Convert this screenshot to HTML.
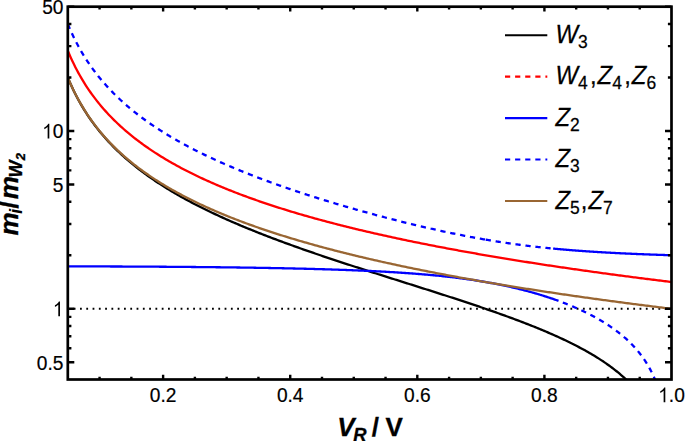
<!DOCTYPE html>
<html><head><meta charset="utf-8"><style>
html,body{margin:0;padding:0;background:#fff;}
svg{display:block;font-family:"Liberation Sans",sans-serif;}
</style></head><body>
<svg width="685" height="441" viewBox="0 0 685 441">
<rect width="685" height="441" fill="#fff"/>
<defs><clipPath id="c"><rect x="67.80" y="6.70" width="603.70" height="372.80"/></clipPath></defs>
<g clip-path="url(#c)">
<path d="M67.80 308.75 H671.50" stroke="#000" stroke-width="1.9" stroke-dasharray="1.8 4.487" stroke-dashoffset="0.37" fill="none"/>
<path d="M67.80 77.54 L69.31 81.13 L70.82 84.56 L72.32 87.85 L73.83 91.00 L75.34 94.03 L76.85 96.95 L78.35 99.76 L79.86 102.48 L81.37 105.10 L82.88 107.64 L84.38 110.10 L85.89 112.48 L87.40 114.80 L88.91 117.05 L90.41 119.23 L91.92 121.36 L93.43 123.43 L94.94 125.45 L96.45 127.42 L97.95 129.34 L99.46 131.22 L100.97 133.05 L102.48 134.84 L103.98 136.59 L105.49 138.31 L107.00 139.98 L108.51 141.63 L110.01 143.24 L111.52 144.82 L113.03 146.37 L114.54 147.89 L116.05 149.38 L117.55 150.84 L119.06 152.28 L120.57 153.70 L122.08 155.09 L123.58 156.45 L125.09 157.80 L126.60 159.12 L128.11 160.42 L129.61 161.70 L131.12 162.96 L132.63 164.21 L134.14 165.43 L135.64 166.64 L137.15 167.83 L138.66 169.00 L140.17 170.16 L141.68 171.30 L143.18 172.42 L144.69 173.53 L146.20 174.63 L147.71 175.71 L149.21 176.78 L150.72 177.84 L152.23 178.88 L153.74 179.91 L155.24 180.93 L156.75 181.93 L158.26 182.93 L159.77 183.91 L161.28 184.89 L162.78 185.85 L164.29 186.80 L165.80 187.74 L167.31 188.67 L168.81 189.59 L170.32 190.50 L171.83 191.41 L173.34 192.30 L174.84 193.19 L176.35 194.06 L177.86 194.93 L179.37 195.79 L180.87 196.64 L182.38 197.48 L183.89 198.32 L185.40 199.15 L186.91 199.97 L188.41 200.78 L189.92 201.59 L191.43 202.39 L192.94 203.19 L194.44 203.97 L195.95 204.75 L197.46 205.53 L198.97 206.29 L200.47 207.06 L201.98 207.81 L203.49 208.56 L205.00 209.31 L206.50 210.04 L208.01 210.78 L209.52 211.50 L211.03 212.23 L212.54 212.94 L214.04 213.66 L215.55 214.36 L217.06 215.07 L218.57 215.76 L220.07 216.46 L221.58 217.14 L223.09 217.83 L224.60 218.51 L226.10 219.18 L227.61 219.85 L229.12 220.52 L230.63 221.18 L232.14 221.84 L233.64 222.49 L235.15 223.14 L236.66 223.79 L238.17 224.43 L239.67 225.07 L241.18 225.71 L242.69 226.34 L244.20 226.97 L245.70 227.59 L247.21 228.21 L248.72 228.83 L250.23 229.44 L251.73 230.06 L253.24 230.66 L254.75 231.27 L256.26 231.87 L257.77 232.47 L259.27 233.07 L260.78 233.66 L262.29 234.25 L263.80 234.84 L265.30 235.42 L266.81 236.01 L268.32 236.59 L269.83 237.16 L271.33 237.74 L272.84 238.31 L274.35 238.88 L275.86 239.45 L277.36 240.01 L278.87 240.57 L280.38 241.13 L281.89 241.69 L283.40 242.25 L284.90 242.80 L286.41 243.35 L287.92 243.90 L289.43 244.45 L290.93 244.99 L292.44 245.54 L293.95 246.08 L295.46 246.62 L296.96 247.16 L298.47 247.69 L299.98 248.23 L301.49 248.76 L303.00 249.29 L304.50 249.82 L306.01 250.34 L307.52 250.87 L309.03 251.39 L310.53 251.91 L312.04 252.44 L313.55 252.95 L315.06 253.47 L316.56 253.99 L318.07 254.50 L319.58 255.02 L321.09 255.53 L322.59 256.04 L324.10 256.55 L325.61 257.06 L327.12 257.56 L328.63 258.07 L330.13 258.57 L331.64 259.08 L333.15 259.58 L334.66 260.08 L336.16 260.58 L337.67 261.08 L339.18 261.57 L340.69 262.07 L342.19 262.57 L343.70 263.06 L345.21 263.55 L346.72 264.05 L348.23 264.54 L349.73 265.03 L351.24 265.52 L352.75 266.01 L354.26 266.50 L355.76 266.99 L357.27 267.47 L358.78 267.96 L360.29 268.45 L361.79 268.93 L363.30 269.42 L364.81 269.90 L366.32 270.38 L367.82 270.87 L369.33 271.35 L370.84 271.83 L372.35 272.31 L373.86 272.79 L375.36 273.27 L376.87 273.75 L378.38 274.23 L379.89 274.71 L381.39 275.19 L382.90 275.66 L384.41 276.14 L385.92 276.62 L387.42 277.10 L388.93 277.57 L390.44 278.05 L391.95 278.53 L393.45 279.00 L394.96 279.48 L396.47 279.96 L397.98 280.43 L399.49 280.91 L400.99 281.39 L402.50 281.86 L404.01 282.34 L405.52 282.81 L407.02 283.29 L408.53 283.77 L410.04 284.24 L411.55 284.72 L413.05 285.19 L414.56 285.67 L416.07 286.15 L417.58 286.62 L419.09 287.10 L420.59 287.58 L422.10 288.06 L423.61 288.53 L425.12 289.01 L426.62 289.49 L428.13 289.97 L429.64 290.45 L431.15 290.93 L432.65 291.41 L434.16 291.89 L435.67 292.37 L437.18 292.86 L438.68 293.34 L440.19 293.82 L441.70 294.31 L443.21 294.79 L444.72 295.28 L446.22 295.76 L447.73 296.25 L449.24 296.74 L450.75 297.23 L452.25 297.71 L453.76 298.21 L455.27 298.70 L456.78 299.19 L458.28 299.68 L459.79 300.18 L461.30 300.67 L462.81 301.17 L464.31 301.66 L465.82 302.16 L467.33 302.66 L468.84 303.16 L470.35 303.67 L471.85 304.17 L473.36 304.68 L474.87 305.18 L476.38 305.69 L477.88 306.20 L479.39 306.71 L480.90 307.22 L482.41 307.74 L483.91 308.25 L485.42 308.77 L486.93 309.29 L488.44 309.81 L489.95 310.33 L491.45 310.86 L492.96 311.38 L494.47 311.91 L495.98 312.44 L497.48 312.97 L498.99 313.51 L500.50 314.05 L502.01 314.58 L503.51 315.13 L505.02 315.67 L506.53 316.22 L508.04 316.77 L509.54 317.32 L511.05 317.87 L512.56 318.43 L514.07 318.99 L515.58 319.55 L517.08 320.11 L518.59 320.68 L520.10 321.25 L521.61 321.83 L523.11 322.41 L524.62 322.99 L526.13 323.57 L527.64 324.16 L529.14 324.75 L530.65 325.35 L532.16 325.95 L533.67 326.55 L535.18 327.16 L536.68 327.77 L538.19 328.38 L539.70 329.00 L541.21 329.63 L542.71 330.25 L544.22 330.89 L545.73 331.52 L547.24 332.17 L548.74 332.82 L550.25 333.47 L551.76 334.13 L553.27 334.79 L554.77 335.46 L556.28 336.14 L557.79 336.82 L559.30 337.51 L560.81 338.20 L562.31 338.90 L563.82 339.61 L565.33 340.32 L566.84 341.04 L568.34 341.77 L569.85 342.51 L571.36 343.26 L572.87 344.01 L574.37 344.77 L575.88 345.54 L577.39 346.32 L578.90 347.11 L580.40 347.91 L581.91 348.72 L583.42 349.53 L584.93 350.36 L586.44 351.21 L587.94 352.06 L589.45 352.92 L590.96 353.80 L592.47 354.69 L593.97 355.59 L595.48 356.51 L596.99 357.44 L598.50 358.39 L600.00 359.36 L601.51 360.34 L603.02 361.33 L604.53 362.35 L606.04 363.38 L607.54 364.44 L609.05 365.52 L610.56 366.61 L612.07 367.74 L613.57 368.88 L615.08 370.05 L616.59 371.25 L618.10 372.48 L619.60 373.74 L621.11 375.03 L622.62 376.35 L624.13 377.71 L625.63 379.11 L627.14 380.55 L628.65 382.03 L630.16 383.56 L631.67 385.15 L633.17 386.78 L634.68 388.48 L636.19 390.24 L637.70 392.07 L639.20 393.98 L640.71 395.97 L642.22 398.06 L643.73 400.24 L645.23 402.54 L646.74 404.97 L648.25 407.54 L649.76 410.27 L651.26 413.19 L652.77 416.32 L654.28 419.70 L655.79 423.38 L657.30 427.41 L658.80 431.89 L660.31 436.91 L661.82 442.63 L663.33 449.31 L664.83 457.32 L666.34 467.36 L667.85 480.84 L669.36 501.54 L670.86 548.61" stroke="#000" stroke-width="2.3" fill="none"/>
<path d="M67.80 50.69 L69.31 54.27 L70.82 57.70 L72.33 60.97 L73.84 64.12 L75.35 67.14 L76.86 70.05 L78.36 72.85 L79.87 75.56 L81.38 78.17 L82.89 80.70 L84.40 83.14 L85.91 85.52 L87.42 87.82 L88.93 90.05 L90.44 92.22 L91.95 94.34 L93.46 96.39 L94.97 98.40 L96.48 100.35 L97.99 102.25 L99.49 104.11 L101.00 105.93 L102.51 107.70 L104.02 109.43 L105.53 111.13 L107.04 112.79 L108.55 114.41 L110.06 116.00 L111.57 117.56 L113.08 119.08 L114.59 120.58 L116.10 122.05 L117.61 123.49 L119.11 124.91 L120.62 126.30 L122.13 127.66 L123.64 129.01 L125.15 130.32 L126.66 131.62 L128.17 132.90 L129.68 134.15 L131.19 135.38 L132.70 136.60 L134.21 137.80 L135.72 138.97 L137.23 140.13 L138.73 141.28 L140.24 142.40 L141.75 143.51 L143.26 144.61 L144.77 145.69 L146.28 146.75 L147.79 147.80 L149.30 148.84 L150.81 149.86 L152.32 150.87 L153.83 151.86 L155.34 152.85 L156.85 153.82 L158.35 154.77 L159.86 155.72 L161.37 156.66 L162.88 157.58 L164.39 158.49 L165.90 159.40 L167.41 160.29 L168.92 161.17 L170.43 162.04 L171.94 162.90 L173.45 163.76 L174.96 164.60 L176.47 165.44 L177.98 166.26 L179.48 167.08 L180.99 167.89 L182.50 168.68 L184.01 169.48 L185.52 170.26 L187.03 171.04 L188.54 171.80 L190.05 172.56 L191.56 173.32 L193.07 174.06 L194.58 174.80 L196.09 175.53 L197.60 176.26 L199.10 176.97 L200.61 177.69 L202.12 178.39 L203.63 179.09 L205.14 179.78 L206.65 180.47 L208.16 181.15 L209.67 181.82 L211.18 182.49 L212.69 183.15 L214.20 183.81 L215.71 184.46 L217.22 185.11 L218.72 185.75 L220.23 186.38 L221.74 187.01 L223.25 187.64 L224.76 188.26 L226.27 188.87 L227.78 189.48 L229.29 190.09 L230.80 190.69 L232.31 191.28 L233.82 191.87 L235.33 192.46 L236.84 193.04 L238.35 193.62 L239.85 194.20 L241.36 194.77 L242.87 195.33 L244.38 195.89 L245.89 196.45 L247.40 197.00 L248.91 197.55 L250.42 198.10 L251.93 198.64 L253.44 199.18 L254.95 199.71 L256.46 200.24 L257.97 200.77 L259.47 201.29 L260.98 201.81 L262.49 202.33 L264.00 202.84 L265.51 203.35 L267.02 203.86 L268.53 204.36 L270.04 204.86 L271.55 205.36 L273.06 205.85 L274.57 206.34 L276.08 206.83 L277.59 207.31 L279.10 207.79 L280.60 208.27 L282.11 208.74 L283.62 209.22 L285.13 209.68 L286.64 210.15 L288.15 210.61 L289.66 211.08 L291.17 211.53 L292.68 211.99 L294.19 212.44 L295.70 212.89 L297.21 213.34 L298.72 213.78 L300.22 214.23 L301.73 214.67 L303.24 215.10 L304.75 215.54 L306.26 215.97 L307.77 216.40 L309.28 216.83 L310.79 217.25 L312.30 217.68 L313.81 218.10 L315.32 218.52 L316.83 218.93 L318.34 219.35 L319.84 219.76 L321.35 220.17 L322.86 220.57 L324.37 220.98 L325.88 221.38 L327.39 221.78 L328.90 222.18 L330.41 222.58 L331.92 222.97 L333.43 223.37 L334.94 223.76 L336.45 224.15 L337.96 224.53 L339.46 224.92 L340.97 225.30 L342.48 225.68 L343.99 226.06 L345.50 226.44 L347.01 226.82 L348.52 227.19 L350.03 227.56 L351.54 227.93 L353.05 228.30 L354.56 228.67 L356.07 229.03 L357.58 229.39 L359.09 229.76 L360.59 230.12 L362.10 230.47 L363.61 230.83 L365.12 231.19 L366.63 231.54 L368.14 231.89 L369.65 232.24 L371.16 232.59 L372.67 232.94 L374.18 233.28 L375.69 233.63 L377.20 233.97 L378.71 234.31 L380.21 234.65 L381.72 234.99 L383.23 235.32 L384.74 235.66 L386.25 235.99 L387.76 236.32 L389.27 236.65 L390.78 236.98 L392.29 237.31 L393.80 237.64 L395.31 237.96 L396.82 238.29 L398.33 238.61 L399.83 238.93 L401.34 239.25 L402.85 239.57 L404.36 239.88 L405.87 240.20 L407.38 240.51 L408.89 240.83 L410.40 241.14 L411.91 241.45 L413.42 241.76 L414.93 242.07 L416.44 242.37 L417.95 242.68 L419.46 242.98 L420.96 243.29 L422.47 243.59 L423.98 243.89 L425.49 244.19 L427.00 244.49 L428.51 244.79 L430.02 245.08 L431.53 245.38 L433.04 245.67 L434.55 245.97 L436.06 246.26 L437.57 246.55 L439.08 246.84 L440.58 247.13 L442.09 247.41 L443.60 247.70 L445.11 247.99 L446.62 248.27 L448.13 248.55 L449.64 248.84 L451.15 249.12 L452.66 249.40 L454.17 249.68 L455.68 249.95 L457.19 250.23 L458.70 250.51 L460.21 250.78 L461.71 251.06 L463.22 251.33 L464.73 251.60 L466.24 251.87 L467.75 252.14 L469.26 252.41 L470.77 252.68 L472.28 252.95 L473.79 253.22 L475.30 253.48 L476.81 253.75 L478.32 254.01 L479.83 254.27 L481.33 254.54 L482.84 254.80 L484.35 255.06 L485.86 255.32 L487.37 255.58 L488.88 255.83 L490.39 256.09 L491.90 256.35 L493.41 256.60 L494.92 256.86 L496.43 257.11 L497.94 257.36 L499.45 257.61 L500.95 257.87 L502.46 258.12 L503.97 258.36 L505.48 258.61 L506.99 258.86 L508.50 259.11 L510.01 259.35 L511.52 259.60 L513.03 259.84 L514.54 260.09 L516.05 260.33 L517.56 260.57 L519.07 260.82 L520.58 261.06 L522.08 261.30 L523.59 261.54 L525.10 261.77 L526.61 262.01 L528.12 262.25 L529.63 262.49 L531.14 262.72 L532.65 262.96 L534.16 263.19 L535.67 263.42 L537.18 263.66 L538.69 263.89 L540.20 264.12 L541.70 264.35 L543.21 264.58 L544.72 264.81 L546.23 265.04 L547.74 265.27 L549.25 265.50 L550.76 265.72 L552.27 265.95 L553.78 266.17 L555.29 266.40 L556.80 266.62 L558.31 266.85 L559.82 267.07 L561.32 267.29 L562.83 267.51 L564.34 267.73 L565.85 267.95 L567.36 268.17 L568.87 268.39 L570.38 268.61 L571.89 268.83 L573.40 269.05 L574.91 269.26 L576.42 269.48 L577.93 269.69 L579.44 269.91 L580.95 270.12 L582.45 270.34 L583.96 270.55 L585.47 270.76 L586.98 270.97 L588.49 271.18 L590.00 271.40 L591.51 271.61 L593.02 271.81 L594.53 272.02 L596.04 272.23 L597.55 272.44 L599.06 272.65 L600.57 272.85 L602.07 273.06 L603.58 273.27 L605.09 273.47 L606.60 273.68 L608.11 273.88 L609.62 274.08 L611.13 274.29 L612.64 274.49 L614.15 274.69 L615.66 274.89 L617.17 275.09 L618.68 275.29 L620.19 275.49 L621.69 275.69 L623.20 275.89 L624.71 276.09 L626.22 276.29 L627.73 276.48 L629.24 276.68 L630.75 276.88 L632.26 277.07 L633.77 277.27 L635.28 277.46 L636.79 277.66 L638.30 277.85 L639.81 278.04 L641.32 278.24 L642.82 278.43 L644.33 278.62 L645.84 278.81 L647.35 279.00 L648.86 279.19 L650.37 279.38 L651.88 279.57 L653.39 279.76 L654.90 279.95 L656.41 280.14 L657.92 280.32 L659.43 280.51 L660.94 280.70 L662.44 280.88 L663.95 281.07 L665.46 281.26 L666.97 281.44 L668.48 281.63 L669.99 281.81 L671.50 281.99" stroke="#f00" stroke-width="2.3" fill="none"/>
<path d="M67.80 266.36 L69.03 266.37 L70.25 266.37 L71.48 266.37 L72.71 266.37 L73.93 266.37 L75.16 266.38 L76.39 266.38 L77.61 266.38 L78.84 266.38 L80.07 266.39 L81.29 266.39 L82.52 266.39 L83.75 266.39 L84.97 266.40 L86.20 266.40 L87.43 266.40 L88.66 266.41 L89.88 266.41 L91.11 266.41 L92.34 266.42 L93.56 266.42 L94.79 266.42 L96.02 266.43 L97.24 266.43 L98.47 266.43 L99.70 266.44 L100.92 266.44 L102.15 266.45 L103.38 266.45 L104.60 266.45 L105.83 266.46 L107.06 266.46 L108.28 266.47 L109.51 266.47 L110.74 266.48 L111.96 266.48 L113.19 266.49 L114.42 266.49 L115.64 266.49 L116.87 266.50 L118.10 266.50 L119.32 266.51 L120.55 266.52 L121.78 266.52 L123.01 266.53 L124.23 266.53 L125.46 266.54 L126.69 266.54 L127.91 266.55 L129.14 266.55 L130.37 266.56 L131.59 266.57 L132.82 266.57 L134.05 266.58 L135.27 266.58 L136.50 266.59 L137.73 266.60 L138.95 266.60 L140.18 266.61 L141.41 266.62 L142.63 266.62 L143.86 266.63 L145.09 266.64 L146.31 266.65 L147.54 266.65 L148.77 266.66 L149.99 266.67 L151.22 266.67 L152.45 266.68 L153.67 266.69 L154.90 266.70 L156.13 266.71 L157.36 266.71 L158.58 266.72 L159.81 266.73 L161.04 266.74 L162.26 266.75 L163.49 266.75 L164.72 266.76 L165.94 266.77 L167.17 266.78 L168.40 266.79 L169.62 266.80 L170.85 266.81 L172.08 266.82 L173.30 266.83 L174.53 266.84 L175.76 266.85 L176.98 266.86 L178.21 266.87 L179.44 266.88 L180.66 266.89 L181.89 266.90 L183.12 266.91 L184.34 266.92 L185.57 266.93 L186.80 266.94 L188.02 266.95 L189.25 266.96 L190.48 266.97 L191.70 266.98 L192.93 266.99 L194.16 267.00 L195.39 267.01 L196.61 267.03 L197.84 267.04 L199.07 267.05 L200.29 267.06 L201.52 267.07 L202.75 267.09 L203.97 267.10 L205.20 267.11 L206.43 267.12 L207.65 267.14 L208.88 267.15 L210.11 267.16 L211.33 267.18 L212.56 267.19 L213.79 267.20 L215.01 267.22 L216.24 267.23 L217.47 267.24 L218.69 267.26 L219.92 267.27 L221.15 267.29 L222.37 267.30 L223.60 267.32 L224.83 267.33 L226.05 267.35 L227.28 267.36 L228.51 267.38 L229.74 267.39 L230.96 267.41 L232.19 267.43 L233.42 267.44 L234.64 267.46 L235.87 267.47 L237.10 267.49 L238.32 267.51 L239.55 267.52 L240.78 267.54 L242.00 267.56 L243.23 267.58 L244.46 267.59 L245.68 267.61 L246.91 267.63 L248.14 267.65 L249.36 267.67 L250.59 267.69 L251.82 267.70 L253.04 267.72 L254.27 267.74 L255.50 267.76 L256.72 267.78 L257.95 267.80 L259.18 267.82 L260.40 267.84 L261.63 267.86 L262.86 267.88 L264.09 267.90 L265.31 267.93 L266.54 267.95 L267.77 267.97 L268.99 267.99 L270.22 268.01 L271.45 268.03 L272.67 268.06 L273.90 268.08 L275.13 268.10 L276.35 268.13 L277.58 268.15 L278.81 268.17 L280.03 268.20 L281.26 268.22 L282.49 268.25 L283.71 268.27 L284.94 268.30 L286.17 268.32 L287.39 268.35 L288.62 268.37 L289.85 268.40 L291.07 268.43 L292.30 268.45 L293.53 268.48 L294.75 268.51 L295.98 268.54 L297.21 268.57 L298.44 268.59 L299.66 268.62 L300.89 268.65 L302.12 268.68 L303.34 268.71 L304.57 268.74 L305.80 268.77 L307.02 268.80 L308.25 268.83 L309.48 268.86 L310.70 268.90 L311.93 268.93 L313.16 268.96 L314.38 268.99 L315.61 269.03 L316.84 269.06 L318.06 269.10 L319.29 269.13 L320.52 269.16 L321.74 269.20 L322.97 269.24 L324.20 269.27 L325.42 269.31 L326.65 269.35 L327.88 269.38 L329.10 269.42 L330.33 269.46 L331.56 269.50 L332.78 269.54 L334.01 269.58 L335.24 269.62 L336.47 269.66 L337.69 269.70 L338.92 269.74 L340.15 269.78 L341.37 269.82 L342.60 269.87 L343.83 269.91 L345.05 269.96 L346.28 270.00 L347.51 270.05 L348.73 270.09 L349.96 270.14 L351.19 270.19 L352.41 270.23 L353.64 270.28 L354.87 270.33 L356.09 270.38 L357.32 270.43 L358.55 270.48 L359.77 270.53 L361.00 270.58 L362.23 270.64 L363.45 270.69 L364.68 270.74 L365.91 270.80 L367.13 270.85 L368.36 270.91 L369.59 270.96 L370.82 271.02 L372.04 271.08 L373.27 271.14 L374.50 271.20 L375.72 271.26 L376.95 271.32 L378.18 271.38 L379.40 271.45 L380.63 271.51 L381.86 271.57 L383.08 271.64 L384.31 271.71 L385.54 271.77 L386.76 271.84 L387.99 271.91 L389.22 271.98 L390.44 272.05 L391.67 272.12 L392.90 272.20 L394.12 272.27 L395.35 272.34 L396.58 272.42 L397.80 272.50 L399.03 272.57 L400.26 272.65 L401.48 272.73 L402.71 272.81 L403.94 272.90 L405.17 272.98 L406.39 273.06 L407.62 273.15 L408.85 273.24 L410.07 273.32 L411.30 273.41 L412.53 273.50 L413.75 273.60 L414.98 273.69 L416.21 273.78 L417.43 273.88 L418.66 273.98 L419.89 274.08 L421.11 274.18 L422.34 274.28 L423.57 274.38 L424.79 274.48 L426.02 274.59 L427.25 274.70 L428.47 274.80 L429.70 274.92 L430.93 275.03 L432.15 275.14 L433.38 275.26 L434.61 275.37 L435.83 275.49 L437.06 275.61 L438.29 275.73 L439.51 275.86 L440.74 275.98 L441.97 276.11 L443.20 276.24 L444.42 276.37 L445.65 276.50 L446.88 276.64 L448.10 276.77 L449.33 276.91 L450.56 277.05 L451.78 277.19 L453.01 277.34 L454.24 277.48 L455.46 277.63 L456.69 277.78 L457.92 277.94 L459.14 278.09 L460.37 278.25 L461.60 278.41 L462.82 278.57 L464.05 278.74 L465.28 278.90 L466.50 279.07 L467.73 279.24 L468.96 279.42 L470.18 279.59 L471.41 279.77 L472.64 279.95 L473.86 280.14 L475.09 280.32 L476.32 280.51 L477.55 280.70 L478.77 280.90 L480.00 281.10 L481.23 281.30 L482.45 281.50 L483.68 281.70 L484.91 281.91 L486.13 282.12 L487.36 282.34 L488.59 282.55 L489.81 282.77 L491.04 283.00 L492.27 283.22 L493.49 283.45 L494.72 283.68 L495.95 283.92 L497.17 284.16 L498.40 284.40 L499.63 284.64 L500.85 284.89 L502.08 285.14 L503.31 285.40 L504.53 285.66 L505.76 285.92 L506.99 286.18 L508.21 286.45 L509.44 286.72 L510.67 287.00 L511.90 287.28 L513.12 287.56 L514.35 287.84 L515.58 288.13 L516.80 288.43 L518.03 288.72 L519.26 289.02 L520.48 289.33 L521.71 289.64 L522.94 289.95 L524.16 290.27 L525.39 290.59 L526.62 290.91 L527.84 291.24 L529.07 291.57 L530.30 291.91 L531.52 292.25 L532.75 292.59 L533.98 292.94 L535.20 293.29 L536.43 293.65 L537.66 294.01 L538.88 294.38 L540.11 294.75 L541.34 295.12 L542.56 295.50 L543.79 295.89 L545.02 296.28 L546.24 296.67 L547.47 297.07 L548.70 297.47 L549.93 297.88 L551.15 298.30 L552.38 298.71 L553.61 299.14 L554.83 299.57 L556.06 300.00 L557.29 300.44 L558.51 300.89" stroke="#00f" stroke-width="2.3" fill="none"/>
<path d="M553.11 248.58 L553.41 248.60 L553.70 248.63 L554.00 248.66 L554.30 248.69 L554.59 248.72 L554.89 248.74 L555.18 248.77 L555.48 248.80 L555.77 248.83 L556.07 248.86 L556.37 248.88 L556.66 248.91 L556.96 248.94 L557.25 248.97 L557.55 248.99 L557.85 249.02 L558.14 249.05 L558.44 249.07 L558.73 249.10 L559.03 249.13 L559.33 249.15 L559.62 249.18 L559.92 249.21 L560.21 249.23 L560.51 249.26 L560.81 249.29 L561.10 249.31 L561.40 249.34 L561.69 249.37 L561.99 249.39 L562.29 249.42 L562.58 249.44 L562.88 249.47 L563.17 249.50 L563.47 249.52 L563.77 249.55 L564.06 249.57 L564.36 249.60 L564.65 249.62 L564.95 249.65 L565.25 249.67 L565.54 249.70 L565.84 249.72 L566.13 249.75 L566.43 249.77 L566.73 249.80 L567.02 249.82 L567.32 249.85 L567.61 249.87 L567.91 249.90 L568.21 249.92 L568.50 249.95 L568.80 249.97 L569.09 249.99 L569.39 250.02 L569.69 250.04 L569.98 250.07 L570.28 250.09 L570.57 250.11 L570.87 250.14 L571.17 250.16 L571.46 250.18 L571.76 250.21 L572.05 250.23 L572.35 250.26 L572.65 250.28 L572.94 250.30 L573.24 250.33 L573.53 250.35 L573.83 250.37 L574.13 250.39 L574.42 250.42 L574.72 250.44 L575.01 250.46 L575.31 250.49 L575.61 250.51 L575.90 250.53 L576.20 250.55 L576.49 250.58 L576.79 250.60 L577.08 250.62 L577.38 250.64 L577.68 250.67 L577.97 250.69 L578.27 250.71 L578.56 250.73 L578.86 250.75 L579.16 250.78 L579.45 250.80 L579.75 250.82 L580.04 250.84 L580.34 250.86 L580.64 250.88 L580.93 250.90 L581.23 250.93 L581.52 250.95 L581.82 250.97 L582.12 250.99 L582.41 251.01 L582.71 251.03 L583.00 251.05 L583.30 251.07 L583.60 251.09 L583.89 251.12 L584.19 251.14 L584.48 251.16 L584.78 251.18 L585.08 251.20 L585.37 251.22 L585.67 251.24 L585.96 251.26 L586.26 251.28 L586.56 251.30 L586.85 251.32 L587.15 251.34 L587.44 251.36 L587.74 251.38 L588.04 251.40 L588.33 251.42 L588.63 251.44 L588.92 251.46 L589.22 251.48 L589.52 251.50 L589.81 251.52 L590.11 251.54 L590.40 251.56 L590.70 251.58 L591.00 251.60 L591.29 251.62 L591.59 251.64 L591.88 251.65 L592.18 251.67 L592.48 251.69 L592.77 251.71 L593.07 251.73 L593.36 251.75 L593.66 251.77 L593.96 251.79 L594.25 251.81 L594.55 251.82 L594.84 251.84 L595.14 251.86 L595.44 251.88 L595.73 251.90 L596.03 251.92 L596.32 251.94 L596.62 251.95 L596.92 251.97 L597.21 251.99 L597.51 252.01 L597.80 252.03 L598.10 252.04 L598.39 252.06 L598.69 252.08 L598.99 252.10 L599.28 252.12 L599.58 252.13 L599.87 252.15 L600.17 252.17 L600.47 252.19 L600.76 252.20 L601.06 252.22 L601.35 252.24 L601.65 252.26 L601.95 252.27 L602.24 252.29 L602.54 252.31 L602.83 252.33 L603.13 252.34 L603.43 252.36 L603.72 252.38 L604.02 252.39 L604.31 252.41 L604.61 252.43 L604.91 252.44 L605.20 252.46 L605.50 252.48 L605.79 252.49 L606.09 252.51 L606.39 252.53 L606.68 252.54 L606.98 252.56 L607.27 252.58 L607.57 252.59 L607.87 252.61 L608.16 252.63 L608.46 252.64 L608.75 252.66 L609.05 252.67 L609.35 252.69 L609.64 252.71 L609.94 252.72 L610.23 252.74 L610.53 252.75 L610.83 252.77 L611.12 252.79 L611.42 252.80 L611.71 252.82 L612.01 252.83 L612.31 252.85 L612.60 252.86 L612.90 252.88 L613.19 252.90 L613.49 252.91 L613.79 252.93 L614.08 252.94 L614.38 252.96 L614.67 252.97 L614.97 252.99 L615.27 253.00 L615.56 253.02 L615.86 253.03 L616.15 253.05 L616.45 253.06 L616.75 253.08 L617.04 253.09 L617.34 253.11 L617.63 253.12 L617.93 253.14 L618.23 253.15 L618.52 253.17 L618.82 253.18 L619.11 253.20 L619.41 253.21 L619.70 253.23 L620.00 253.24 L620.30 253.25 L620.59 253.27 L620.89 253.28 L621.18 253.30 L621.48 253.31 L621.78 253.33 L622.07 253.34 L622.37 253.35 L622.66 253.37 L622.96 253.38 L623.26 253.40 L623.55 253.41 L623.85 253.42 L624.14 253.44 L624.44 253.45 L624.74 253.47 L625.03 253.48 L625.33 253.49 L625.62 253.51 L625.92 253.52 L626.22 253.53 L626.51 253.55 L626.81 253.56 L627.10 253.58 L627.40 253.59 L627.70 253.60 L627.99 253.62 L628.29 253.63 L628.58 253.64 L628.88 253.66 L629.18 253.67 L629.47 253.68 L629.77 253.70 L630.06 253.71 L630.36 253.72 L630.66 253.73 L630.95 253.75 L631.25 253.76 L631.54 253.77 L631.84 253.79 L632.14 253.80 L632.43 253.81 L632.73 253.83 L633.02 253.84 L633.32 253.85 L633.62 253.86 L633.91 253.88 L634.21 253.89 L634.50 253.90 L634.80 253.91 L635.10 253.93 L635.39 253.94 L635.69 253.95 L635.98 253.96 L636.28 253.98 L636.58 253.99 L636.87 254.00 L637.17 254.01 L637.46 254.03 L637.76 254.04 L638.06 254.05 L638.35 254.06 L638.65 254.07 L638.94 254.09 L639.24 254.10 L639.54 254.11 L639.83 254.12 L640.13 254.13 L640.42 254.15 L640.72 254.16 L641.01 254.17 L641.31 254.18 L641.61 254.19 L641.90 254.21 L642.20 254.22 L642.49 254.23 L642.79 254.24 L643.09 254.25 L643.38 254.26 L643.68 254.27 L643.97 254.29 L644.27 254.30 L644.57 254.31 L644.86 254.32 L645.16 254.33 L645.45 254.34 L645.75 254.35 L646.05 254.37 L646.34 254.38 L646.64 254.39 L646.93 254.40 L647.23 254.41 L647.53 254.42 L647.82 254.43 L648.12 254.44 L648.41 254.46 L648.71 254.47 L649.01 254.48 L649.30 254.49 L649.60 254.50 L649.89 254.51 L650.19 254.52 L650.49 254.53 L650.78 254.54 L651.08 254.55 L651.37 254.56 L651.67 254.58 L651.97 254.59 L652.26 254.60 L652.56 254.61 L652.85 254.62 L653.15 254.63 L653.45 254.64 L653.74 254.65 L654.04 254.66 L654.33 254.67 L654.63 254.68 L654.93 254.69 L655.22 254.70 L655.52 254.71 L655.81 254.72 L656.11 254.73 L656.41 254.74 L656.70 254.75 L657.00 254.76 L657.29 254.77 L657.59 254.78 L657.89 254.79 L658.18 254.80 L658.48 254.81 L658.77 254.82 L659.07 254.83 L659.37 254.84 L659.66 254.85 L659.96 254.86 L660.25 254.87 L660.55 254.88 L660.85 254.89 L661.14 254.90 L661.44 254.91 L661.73 254.92 L662.03 254.93 L662.32 254.94 L662.62 254.95 L662.92 254.96 L663.21 254.97 L663.51 254.98 L663.80 254.99 L664.10 255.00 L664.40 255.01 L664.69 255.02 L664.99 255.03 L665.28 255.04 L665.58 255.05 L665.88 255.06 L666.17 255.07 L666.47 255.08 L666.76 255.09 L667.06 255.10 L667.36 255.11 L667.65 255.11 L667.95 255.12 L668.24 255.13 L668.54 255.14 L668.84 255.15 L669.13 255.16 L669.43 255.17 L669.72 255.18 L670.02 255.19 L670.32 255.20 L670.61 255.21 L670.91 255.22 L671.20 255.22 L671.50 255.23" stroke="#00f" stroke-width="2.3" fill="none"/>
<path d="M67.80 24.00 L68.84 26.50 L69.89 28.93 L70.93 31.28 L71.98 33.56 L73.02 35.78 L74.07 37.94 L75.11 40.03 L76.16 42.08 L77.20 44.07 L78.25 46.01 L79.29 47.90 L80.34 49.75 L81.38 51.55 L82.43 53.32 L83.47 55.05 L84.52 56.74 L85.56 58.39 L86.60 60.01 L87.65 61.59 L88.69 63.15 L89.74 64.67 L90.78 66.17 L91.83 67.64 L92.87 69.08 L93.92 70.49 L94.96 71.88 L96.01 73.25 L97.05 74.59 L98.10 75.91 L99.14 77.21 L100.19 78.48 L101.23 79.74 L102.28 80.98 L103.32 82.20 L104.37 83.40 L105.41 84.58 L106.45 85.74 L107.50 86.89 L108.54 88.02 L109.59 89.14 L110.63 90.24 L111.68 91.32 L112.72 92.39 L113.77 93.45 L114.81 94.49 L115.86 95.52 L116.90 96.54 L117.95 97.54 L118.99 98.53 L120.04 99.51 L121.08 100.48 L122.13 101.43 L123.17 102.37 L124.21 103.31 L125.26 104.23 L126.30 105.14 L127.35 106.05 L128.39 106.94 L129.44 107.82 L130.48 108.69 L131.53 109.56 L132.57 110.41 L133.62 111.26 L134.66 112.09 L135.71 112.92 L136.75 113.74 L137.80 114.55 L138.84 115.36 L139.89 116.15 L140.93 116.94 L141.98 117.72 L143.02 118.50 L144.06 119.26 L145.11 120.02 L146.15 120.78 L147.20 121.52 L148.24 122.26 L149.29 122.99 L150.33 123.72 L151.38 124.44 L152.42 125.15 L153.47 125.86 L154.51 126.56 L155.56 127.26 L156.60 127.95 L157.65 128.63 L158.69 129.31 L159.74 129.98 L160.78 130.65 L161.82 131.31 L162.87 131.97 L163.91 132.62 L164.96 133.27 L166.00 133.92 L167.05 134.55 L168.09 135.19 L169.14 135.81 L170.18 136.44 L171.23 137.06 L172.27 137.67 L173.32 138.28 L174.36 138.89 L175.41 139.49 L176.45 140.09 L177.50 140.68 L178.54 141.27 L179.58 141.86 L180.63 142.44 L181.67 143.02 L182.72 143.59 L183.76 144.16 L184.81 144.73 L185.85 145.29 L186.90 145.85 L187.94 146.41 L188.99 146.96 L190.03 147.51 L191.08 148.05 L192.12 148.59 L193.17 149.13 L194.21 149.67 L195.26 150.20 L196.30 150.73 L197.35 151.26 L198.39 151.78 L199.43 152.30 L200.48 152.81 L201.52 153.33 L202.57 153.84 L203.61 154.35 L204.66 154.85 L205.70 155.36 L206.75 155.86 L207.79 156.35 L208.84 156.85 L209.88 157.34 L210.93 157.83 L211.97 158.31 L213.02 158.80 L214.06 159.28 L215.11 159.76 L216.15 160.23 L217.19 160.71 L218.24 161.18 L219.28 161.65 L220.33 162.12 L221.37 162.58 L222.42 163.04 L223.46 163.50 L224.51 163.96 L225.55 164.41 L226.60 164.87 L227.64 165.32 L228.69 165.77 L229.73 166.21 L230.78 166.66 L231.82 167.10 L232.87 167.54 L233.91 167.98 L234.95 168.42 L236.00 168.85 L237.04 169.28 L238.09 169.72 L239.13 170.14 L240.18 170.57 L241.22 171.00 L242.27 171.42 L243.31 171.84 L244.36 172.26 L245.40 172.68 L246.45 173.09 L247.49 173.51 L248.54 173.92 L249.58 174.33 L250.63 174.74 L251.67 175.15 L252.72 175.55 L253.76 175.96 L254.80 176.36 L255.85 176.76 L256.89 177.16 L257.94 177.56 L258.98 177.96 L260.03 178.35 L261.07 178.74 L262.12 179.13 L263.16 179.52 L264.21 179.91 L265.25 180.30 L266.30 180.69 L267.34 181.07 L268.39 181.45 L269.43 181.83 L270.48 182.21 L271.52 182.59 L272.56 182.97 L273.61 183.35 L274.65 183.72 L275.70 184.09 L276.74 184.47 L277.79 184.84 L278.83 185.21 L279.88 185.57 L280.92 185.94 L281.97 186.31 L283.01 186.67 L284.06 187.03 L285.10 187.39 L286.15 187.75 L287.19 188.11 L288.24 188.47 L289.28 188.83 L290.33 189.18 L291.37 189.54 L292.41 189.89 L293.46 190.24 L294.50 190.59 L295.55 190.94 L296.59 191.29 L297.64 191.64 L298.68 191.99 L299.73 192.33 L300.77 192.68 L301.82 193.02 L302.86 193.36 L303.91 193.70 L304.95 194.04 L306.00 194.38 L307.04 194.72 L308.09 195.06 L309.13 195.39 L310.17 195.73 L311.22 196.06 L312.26 196.40 L313.31 196.73 L314.35 197.06 L315.40 197.39 L316.44 197.72 L317.49 198.04 L318.53 198.37 L319.58 198.70 L320.62 199.02 L321.67 199.35 L322.71 199.67 L323.76 199.99 L324.80 200.31 L325.85 200.63 L326.89 200.95 L327.93 201.27 L328.98 201.59 L330.02 201.91 L331.07 202.22 L332.11 202.54 L333.16 202.85 L334.20 203.17 L335.25 203.48 L336.29 203.79 L337.34 204.10 L338.38 204.41 L339.43 204.72 L340.47 205.03 L341.52 205.33 L342.56 205.64 L343.61 205.95 L344.65 206.25 L345.70 206.56 L346.74 206.86 L347.78 207.16 L348.83 207.46 L349.87 207.76 L350.92 208.06 L351.96 208.36 L353.01 208.66 L354.05 208.96 L355.10 209.25 L356.14 209.55 L357.19 209.84 L358.23 210.14 L359.28 210.43 L360.32 210.72 L361.37 211.02 L362.41 211.31 L363.46 211.60 L364.50 211.89 L365.54 212.18 L366.59 212.46 L367.63 212.75 L368.68 213.04 L369.72 213.32 L370.77 213.61 L371.81 213.89 L372.86 214.17 L373.90 214.46 L374.95 214.74 L375.99 215.02 L377.04 215.30 L378.08 215.58 L379.13 215.86 L380.17 216.13 L381.22 216.41 L382.26 216.69 L383.31 216.96 L384.35 217.24 L385.39 217.51 L386.44 217.78 L387.48 218.06 L388.53 218.33 L389.57 218.60 L390.62 218.87 L391.66 219.14 L392.71 219.41 L393.75 219.67 L394.80 219.94 L395.84 220.21 L396.89 220.47 L397.93 220.74 L398.98 221.00 L400.02 221.26 L401.07 221.52 L402.11 221.78 L403.15 222.04 L404.20 222.30 L405.24 222.56 L406.29 222.82 L407.33 223.08 L408.38 223.33 L409.42 223.59 L410.47 223.84 L411.51 224.10 L412.56 224.35 L413.60 224.60 L414.65 224.85 L415.69 225.10 L416.74 225.35 L417.78 225.60 L418.83 225.85 L419.87 226.10 L420.91 226.34 L421.96 226.59 L423.00 226.83 L424.05 227.08 L425.09 227.32 L426.14 227.56 L427.18 227.80 L428.23 228.04 L429.27 228.28 L430.32 228.52 L431.36 228.75 L432.41 228.99 L433.45 229.22 L434.50 229.46 L435.54 229.69 L436.59 229.92 L437.63 230.16 L438.68 230.39 L439.72 230.61 L440.76 230.84 L441.81 231.07 L442.85 231.30 L443.90 231.52 L444.94 231.75 L445.99 231.97 L447.03 232.19 L448.08 232.41 L449.12 232.63 L450.17 232.85 L451.21 233.07 L452.26 233.29 L453.30 233.50 L454.35 233.72 L455.39 233.93 L456.44 234.14 L457.48 234.36 L458.52 234.57 L459.57 234.78 L460.61 234.98 L461.66 235.19 L462.70 235.40 L463.75 235.60 L464.79 235.81 L465.84 236.01 L466.88 236.21 L467.93 236.41 L468.97 236.61 L470.02 236.81 L471.06 237.01 L472.11 237.20 L473.15 237.40 L474.20 237.59 L475.24 237.78 L476.29 237.97 L477.33 238.16 L478.37 238.35 L479.42 238.54 L480.46 238.72 L481.51 238.91 L482.55 239.09 L483.60 239.27 L484.64 239.45 L485.69 239.63" stroke="#00f" stroke-width="2.3" fill="none" stroke-dasharray="5.25 4.8"/>
<path d="M485.69 239.63 L486.36 239.75 L487.04 239.86 L487.71 239.98 L488.38 240.09 L489.06 240.21 L489.73 240.32 L490.41 240.43 L491.08 240.54 L491.76 240.65 L492.43 240.76 L493.10 240.87 L493.78 240.98 L494.45 241.09 L495.13 241.20 L495.80 241.31 L496.48 241.42 L497.15 241.52 L497.82 241.63 L498.50 241.74 L499.17 241.84 L499.85 241.95 L500.52 242.05 L501.19 242.15 L501.87 242.26 L502.54 242.36 L503.22 242.46 L503.89 242.56 L504.57 242.66 L505.24 242.76 L505.91 242.86 L506.59 242.96 L507.26 243.06 L507.94 243.16 L508.61 243.26 L509.29 243.36 L509.96 243.45 L510.63 243.55 L511.31 243.64 L511.98 243.74 L512.66 243.83 L513.33 243.93 L514.01 244.02 L514.68 244.11 L515.35 244.21 L516.03 244.30 L516.70 244.39 L517.38 244.48 L518.05 244.57 L518.73 244.66 L519.40 244.75 L520.07 244.84 L520.75 244.93 L521.42 245.02 L522.10 245.10 L522.77 245.19 L523.44 245.28 L524.12 245.36 L524.79 245.45 L525.47 245.53 L526.14 245.61 L526.82 245.70 L527.49 245.78 L528.16 245.86 L528.84 245.95 L529.51 246.03 L530.19 246.11 L530.86 246.19 L531.54 246.27 L532.21 246.35 L532.88 246.43 L533.56 246.51 L534.23 246.58 L534.91 246.66 L535.58 246.74 L536.26 246.82 L536.93 246.89 L537.60 246.97 L538.28 247.04 L538.95 247.12 L539.63 247.19 L540.30 247.26 L540.97 247.34 L541.65 247.41 L542.32 247.48 L543.00 247.55 L543.67 247.63 L544.35 247.70 L545.02 247.77 L545.69 247.84 L546.37 247.91 L547.04 247.98 L547.72 248.04 L548.39 248.11 L549.07 248.18 L549.74 248.25 L550.41 248.31 L551.09 248.38 L551.76 248.45 L552.44 248.51 L553.11 248.58" stroke="#00f" stroke-width="2.3" fill="none" stroke-dasharray="5.25 4.8"/>
<path d="M562.83 302.50 L563.10 302.60 L563.38 302.71 L563.65 302.81 L563.92 302.92 L564.19 303.02 L564.46 303.12 L564.73 303.23 L565.00 303.34 L565.27 303.44 L565.54 303.55 L565.81 303.65 L566.08 303.76 L566.36 303.87 L566.63 303.98 L566.90 304.08 L567.17 304.19 L567.44 304.30 L567.71 304.41 L567.98 304.52 L568.25 304.63 L568.52 304.73 L568.79 304.84 L569.06 304.95 L569.33 305.07 L569.61 305.18 L569.88 305.29 L570.15 305.40 L570.42 305.51 L570.69 305.62 L570.96 305.73 L571.23 305.85 L571.50 305.96 L571.77 306.07 L572.04 306.19 L572.31 306.30 L572.59 306.41 L572.86 306.53 L573.13 306.64 L573.40 306.76 L573.67 306.87 L573.94 306.99 L574.21 307.11 L574.48 307.22 L574.75 307.34 L575.02 307.46 L575.29 307.58 L575.56 307.69 L575.84 307.81 L576.11 307.93 L576.38 308.05 L576.65 308.17 L576.92 308.29 L577.19 308.41 L577.46 308.53 L577.73 308.65 L578.00 308.77 L578.27 308.89 L578.54 309.01 L578.82 309.14 L579.09 309.26 L579.36 309.38 L579.63 309.51 L579.90 309.63 L580.17 309.75 L580.44 309.88 L580.71 310.00 L580.98 310.13 L581.25 310.25 L581.52 310.38 L581.79 310.51 L582.07 310.63 L582.34 310.76 L582.61 310.89 L582.88 311.02 L583.15 311.14 L583.42 311.27 L583.69 311.40 L583.96 311.53 L584.23 311.66 L584.50 311.79 L584.77 311.92 L585.05 312.05 L585.32 312.19 L585.59 312.32 L585.86 312.45 L586.13 312.58 L586.40 312.72 L586.67 312.85 L586.94 312.98 L587.21 313.12 L587.48 313.25 L587.75 313.39 L588.02 313.53 L588.30 313.66 L588.57 313.80 L588.84 313.94 L589.11 314.07 L589.38 314.21 L589.65 314.35 L589.92 314.49 L590.19 314.63 L590.46 314.77 L590.73 314.91 L591.00 315.05 L591.28 315.19 L591.55 315.33 L591.82 315.48 L592.09 315.62 L592.36 315.76 L592.63 315.91 L592.90 316.05 L593.17 316.19 L593.44 316.34 L593.71 316.49 L593.98 316.63 L594.25 316.78 L594.53 316.93 L594.80 317.07 L595.07 317.22 L595.34 317.37 L595.61 317.52 L595.88 317.67 L596.15 317.82 L596.42 317.97 L596.69 318.12 L596.96 318.27 L597.23 318.43 L597.51 318.58 L597.78 318.73 L598.05 318.89 L598.32 319.04 L598.59 319.20 L598.86 319.35 L599.13 319.51 L599.40 319.67 L599.67 319.82 L599.94 319.98 L600.21 320.14 L600.49 320.30 L600.76 320.46 L601.03 320.62 L601.30 320.78 L601.57 320.94 L601.84 321.10 L602.11 321.27 L602.38 321.43 L602.65 321.59 L602.92 321.76 L603.19 321.92 L603.46 322.09 L603.74 322.26 L604.01 322.42 L604.28 322.59 L604.55 322.76 L604.82 322.93 L605.09 323.10 L605.36 323.27 L605.63 323.44 L605.90 323.61 L606.17 323.79 L606.44 323.96 L606.72 324.13 L606.99 324.31 L607.26 324.48 L607.53 324.66 L607.80 324.84 L608.07 325.01 L608.34 325.19 L608.61 325.37 L608.88 325.55 L609.15 325.73 L609.42 325.91 L609.69 326.09 L609.97 326.28 L610.24 326.46 L610.51 326.64 L610.78 326.83 L611.05 327.02 L611.32 327.20 L611.59 327.39 L611.86 327.58 L612.13 327.77 L612.40 327.96 L612.67 328.15 L612.95 328.34 L613.22 328.53 L613.49 328.72 L613.76 328.92 L614.03 329.11 L614.30 329.31 L614.57 329.51 L614.84 329.70 L615.11 329.90 L615.38 330.10 L615.65 330.30 L615.92 330.50 L616.20 330.71 L616.47 330.91 L616.74 331.11 L617.01 331.32 L617.28 331.53 L617.55 331.73 L617.82 331.94 L618.09 332.15 L618.36 332.36 L618.63 332.57 L618.90 332.78 L619.18 333.00 L619.45 333.21 L619.72 333.43 L619.99 333.64 L620.26 333.86 L620.53 334.08 L620.80 334.30 L621.07 334.52 L621.34 334.74 L621.61 334.96 L621.88 335.19 L622.15 335.41 L622.43 335.64 L622.70 335.87 L622.97 336.10 L623.24 336.33 L623.51 336.56 L623.78 336.79 L624.05 337.03 L624.32 337.26 L624.59 337.50 L624.86 337.74 L625.13 337.98 L625.41 338.22 L625.68 338.46 L625.95 338.70 L626.22 338.95 L626.49 339.19 L626.76 339.44 L627.03 339.69 L627.30 339.94 L627.57 340.19 L627.84 340.44 L628.11 340.70 L628.38 340.96 L628.66 341.21 L628.93 341.47 L629.20 341.73 L629.47 342.00 L629.74 342.26 L630.01 342.53 L630.28 342.79 L630.55 343.06 L630.82 343.33 L631.09 343.61 L631.36 343.88 L631.64 344.16 L631.91 344.44 L632.18 344.72 L632.45 345.00 L632.72 345.28 L632.99 345.57 L633.26 345.85 L633.53 346.14 L633.80 346.43 L634.07 346.73 L634.34 347.02 L634.61 347.32 L634.89 347.62 L635.16 347.92 L635.43 348.23 L635.70 348.53 L635.97 348.84 L636.24 349.15 L636.51 349.46 L636.78 349.78 L637.05 350.10 L637.32 350.42 L637.59 350.74 L637.87 351.06 L638.14 351.39 L638.41 351.72 L638.68 352.05 L638.95 352.39 L639.22 352.73 L639.49 353.07 L639.76 353.41 L640.03 353.76 L640.30 354.10 L640.57 354.46 L640.84 354.81 L641.12 355.17 L641.39 355.53 L641.66 355.89 L641.93 356.26 L642.20 356.63 L642.47 357.01 L642.74 357.38 L643.01 357.76 L643.28 358.15 L643.55 358.54 L643.82 358.93 L644.10 359.32 L644.37 359.72 L644.64 360.12 L644.91 360.53 L645.18 360.94 L645.45 361.36 L645.72 361.78 L645.99 362.20 L646.26 362.63 L646.53 363.06 L646.80 363.50 L647.07 363.94 L647.35 364.38 L647.62 364.83 L647.89 365.29 L648.16 365.75 L648.43 366.22 L648.70 366.69 L648.97 367.17 L649.24 367.65 L649.51 368.14 L649.78 368.63 L650.05 369.13 L650.33 369.64 L650.60 370.15 L650.87 370.67 L651.14 371.20 L651.41 371.73 L651.68 372.27 L651.95 372.82 L652.22 373.37 L652.49 373.93 L652.76 374.50 L653.03 375.08 L653.30 375.67 L653.58 376.26 L653.85 376.87 L654.12 377.48 L654.39 378.10 L654.66 378.73 L654.93 379.37 L655.20 380.03 L655.47 380.69 L655.74 381.36 L656.01 382.05 L656.28 382.75 L656.56 383.46 L656.83 384.18 L657.10 384.91 L657.37 385.66 L657.64 386.43 L657.91 387.20 L658.18 388.00 L658.45 388.81 L658.72 389.63 L658.99 390.47 L659.26 391.34 L659.53 392.22 L659.81 393.12 L660.08 394.04 L660.35 394.98 L660.62 395.95 L660.89 396.93 L661.16 397.95 L661.43 398.99 L661.70 400.06 L661.97 401.16 L662.24 402.29 L662.51 403.45 L662.79 404.65 L663.06 405.88 L663.33 407.16 L663.60 408.48 L663.87 409.84 L664.14 411.25 L664.41 412.71 L664.68 414.23 L664.95 415.81 L665.22 417.46 L665.49 419.18 L665.76 420.98 L666.04 422.86 L666.31 424.84 L666.58 426.93 L666.85 429.13 L667.12 431.46 L667.39 433.94 L667.66 436.59 L667.93 439.43 L668.20 442.49 L668.47 445.82 L668.74 449.46 L669.02 453.47 L669.29 457.94 L669.56 462.99 L669.83 468.81 L670.10 475.65 L670.37 483.96 L670.64 494.55 L670.91 509.18 L671.18 533.00" stroke="#00f" stroke-width="2.3" fill="none" stroke-dasharray="5.25 4.8"/>
<path d="M67.80 77.45 L69.31 81.03 L70.82 84.46 L72.33 87.73 L73.84 90.88 L75.35 93.90 L76.86 96.81 L78.36 99.61 L79.87 102.32 L81.38 104.93 L82.89 107.46 L84.40 109.90 L85.91 112.28 L87.42 114.58 L88.93 116.81 L90.44 118.98 L91.95 121.10 L93.46 123.15 L94.97 125.16 L96.48 127.11 L97.99 129.01 L99.49 130.87 L101.00 132.68 L102.51 134.46 L104.02 136.19 L105.53 137.89 L107.04 139.54 L108.55 141.17 L110.06 142.76 L111.57 144.32 L113.08 145.84 L114.59 147.34 L116.10 148.81 L117.61 150.25 L119.11 151.67 L120.62 153.06 L122.13 154.42 L123.64 155.77 L125.15 157.08 L126.66 158.38 L128.17 159.66 L129.68 160.91 L131.19 162.14 L132.70 163.36 L134.21 164.56 L135.72 165.73 L137.23 166.89 L138.73 168.04 L140.24 169.16 L141.75 170.27 L143.26 171.37 L144.77 172.45 L146.28 173.51 L147.79 174.56 L149.30 175.60 L150.81 176.62 L152.32 177.63 L153.83 178.62 L155.34 179.61 L156.85 180.58 L158.35 181.53 L159.86 182.48 L161.37 183.42 L162.88 184.34 L164.39 185.25 L165.90 186.16 L167.41 187.05 L168.92 187.93 L170.43 188.80 L171.94 189.66 L173.45 190.52 L174.96 191.36 L176.47 192.19 L177.98 193.02 L179.48 193.84 L180.99 194.64 L182.50 195.44 L184.01 196.24 L185.52 197.02 L187.03 197.79 L188.54 198.56 L190.05 199.32 L191.56 200.08 L193.07 200.82 L194.58 201.56 L196.09 202.29 L197.60 203.02 L199.10 203.73 L200.61 204.45 L202.12 205.15 L203.63 205.85 L205.14 206.54 L206.65 207.23 L208.16 207.91 L209.67 208.58 L211.18 209.25 L212.69 209.91 L214.20 210.57 L215.71 211.22 L217.22 211.87 L218.72 212.51 L220.23 213.14 L221.74 213.77 L223.25 214.40 L224.76 215.02 L226.27 215.63 L227.78 216.24 L229.29 216.85 L230.80 217.45 L232.31 218.04 L233.82 218.63 L235.33 219.22 L236.84 219.80 L238.35 220.38 L239.85 220.96 L241.36 221.53 L242.87 222.09 L244.38 222.65 L245.89 223.21 L247.40 223.76 L248.91 224.31 L250.42 224.86 L251.93 225.40 L253.44 225.94 L254.95 226.47 L256.46 227.00 L257.97 227.53 L259.47 228.05 L260.98 228.57 L262.49 229.09 L264.00 229.60 L265.51 230.11 L267.02 230.62 L268.53 231.12 L270.04 231.62 L271.55 232.11 L273.06 232.61 L274.57 233.10 L276.08 233.59 L277.59 234.07 L279.10 234.55 L280.60 235.03 L282.11 235.50 L283.62 235.98 L285.13 236.44 L286.64 236.91 L288.15 237.37 L289.66 237.84 L291.17 238.29 L292.68 238.75 L294.19 239.20 L295.70 239.65 L297.21 240.10 L298.72 240.54 L300.22 240.99 L301.73 241.43 L303.24 241.86 L304.75 242.30 L306.26 242.73 L307.77 243.16 L309.28 243.59 L310.79 244.01 L312.30 244.44 L313.81 244.86 L315.32 245.28 L316.83 245.69 L318.34 246.11 L319.84 246.52 L321.35 246.93 L322.86 247.33 L324.37 247.74 L325.88 248.14 L327.39 248.54 L328.90 248.94 L330.41 249.34 L331.92 249.73 L333.43 250.13 L334.94 250.52 L336.45 250.91 L337.96 251.29 L339.46 251.68 L340.97 252.06 L342.48 252.44 L343.99 252.82 L345.50 253.20 L347.01 253.57 L348.52 253.95 L350.03 254.32 L351.54 254.69 L353.05 255.06 L354.56 255.43 L356.07 255.79 L357.58 256.15 L359.09 256.52 L360.59 256.88 L362.10 257.23 L363.61 257.59 L365.12 257.95 L366.63 258.30 L368.14 258.65 L369.65 259.00 L371.16 259.35 L372.67 259.70 L374.18 260.04 L375.69 260.39 L377.20 260.73 L378.71 261.07 L380.21 261.41 L381.72 261.75 L383.23 262.08 L384.74 262.42 L386.25 262.75 L387.76 263.08 L389.27 263.41 L390.78 263.74 L392.29 264.07 L393.80 264.40 L395.31 264.72 L396.82 265.04 L398.33 265.37 L399.83 265.69 L401.34 266.01 L402.85 266.33 L404.36 266.64 L405.87 266.96 L407.38 267.27 L408.89 267.59 L410.40 267.90 L411.91 268.21 L413.42 268.52 L414.93 268.83 L416.44 269.13 L417.95 269.44 L419.46 269.74 L420.96 270.05 L422.47 270.35 L423.98 270.65 L425.49 270.95 L427.00 271.25 L428.51 271.55 L430.02 271.84 L431.53 272.14 L433.04 272.43 L434.55 272.72 L436.06 273.02 L437.57 273.31 L439.08 273.60 L440.58 273.89 L442.09 274.17 L443.60 274.46 L445.11 274.74 L446.62 275.03 L448.13 275.31 L449.64 275.59 L451.15 275.88 L452.66 276.16 L454.17 276.44 L455.68 276.71 L457.19 276.99 L458.70 277.27 L460.21 277.54 L461.71 277.82 L463.22 278.09 L464.73 278.36 L466.24 278.63 L467.75 278.90 L469.26 279.17 L470.77 279.44 L472.28 279.71 L473.79 279.98 L475.30 280.24 L476.81 280.51 L478.32 280.77 L479.83 281.03 L481.33 281.30 L482.84 281.56 L484.35 281.82 L485.86 282.08 L487.37 282.34 L488.88 282.59 L490.39 282.85 L491.90 283.11 L493.41 283.36 L494.92 283.62 L496.43 283.87 L497.94 284.12 L499.45 284.37 L500.95 284.62 L502.46 284.87 L503.97 285.12 L505.48 285.37 L506.99 285.62 L508.50 285.87 L510.01 286.11 L511.52 286.36 L513.03 286.60 L514.54 286.85 L516.05 287.09 L517.56 287.33 L519.07 287.58 L520.58 287.82 L522.08 288.06 L523.59 288.30 L525.10 288.53 L526.61 288.77 L528.12 289.01 L529.63 289.25 L531.14 289.48 L532.65 289.72 L534.16 289.95 L535.67 290.18 L537.18 290.42 L538.69 290.65 L540.20 290.88 L541.70 291.11 L543.21 291.34 L544.72 291.57 L546.23 291.80 L547.74 292.03 L549.25 292.26 L550.76 292.48 L552.27 292.71 L553.78 292.93 L555.29 293.16 L556.80 293.38 L558.31 293.61 L559.82 293.83 L561.32 294.05 L562.83 294.27 L564.34 294.49 L565.85 294.71 L567.36 294.93 L568.87 295.15 L570.38 295.37 L571.89 295.59 L573.40 295.81 L574.91 296.02 L576.42 296.24 L577.93 296.45 L579.44 296.67 L580.95 296.88 L582.45 297.10 L583.96 297.31 L585.47 297.52 L586.98 297.73 L588.49 297.94 L590.00 298.15 L591.51 298.36 L593.02 298.57 L594.53 298.78 L596.04 298.99 L597.55 299.20 L599.06 299.41 L600.57 299.61 L602.07 299.82 L603.58 300.02 L605.09 300.23 L606.60 300.43 L608.11 300.64 L609.62 300.84 L611.13 301.04 L612.64 301.25 L614.15 301.45 L615.66 301.65 L617.17 301.85 L618.68 302.05 L620.19 302.25 L621.69 302.45 L623.20 302.65 L624.71 302.85 L626.22 303.04 L627.73 303.24 L629.24 303.44 L630.75 303.64 L632.26 303.83 L633.77 304.03 L635.28 304.22 L636.79 304.41 L638.30 304.61 L639.81 304.80 L641.32 304.99 L642.82 305.19 L644.33 305.38 L645.84 305.57 L647.35 305.76 L648.86 305.95 L650.37 306.14 L651.88 306.33 L653.39 306.52 L654.90 306.71 L656.41 306.90 L657.92 307.08 L659.43 307.27 L660.94 307.46 L662.44 307.64 L663.95 307.83 L665.46 308.02 L666.97 308.20 L668.48 308.38 L669.99 308.57 L671.50 308.75" stroke="#996633" stroke-width="2.3" fill="none"/>
</g>
<g stroke="#000" stroke-width="2.4" fill="none">
<path d="M99.57 379.50 v-2.80 M99.57 6.70 v2.80"/>
<path d="M131.35 379.50 v-2.80 M131.35 6.70 v2.80"/>
<path d="M163.12 379.50 v-4.80 M163.12 6.70 v4.80"/>
<path d="M194.89 379.50 v-2.80 M194.89 6.70 v2.80"/>
<path d="M226.67 379.50 v-2.80 M226.67 6.70 v2.80"/>
<path d="M258.44 379.50 v-2.80 M258.44 6.70 v2.80"/>
<path d="M290.22 379.50 v-4.80 M290.22 6.70 v4.80"/>
<path d="M321.99 379.50 v-2.80 M321.99 6.70 v2.80"/>
<path d="M353.76 379.50 v-2.80 M353.76 6.70 v2.80"/>
<path d="M385.54 379.50 v-2.80 M385.54 6.70 v2.80"/>
<path d="M417.31 379.50 v-4.80 M417.31 6.70 v4.80"/>
<path d="M449.08 379.50 v-2.80 M449.08 6.70 v2.80"/>
<path d="M480.86 379.50 v-2.80 M480.86 6.70 v2.80"/>
<path d="M512.63 379.50 v-2.80 M512.63 6.70 v2.80"/>
<path d="M544.41 379.50 v-4.80 M544.41 6.70 v4.80"/>
<path d="M576.18 379.50 v-2.80 M576.18 6.70 v2.80"/>
<path d="M607.95 379.50 v-2.80 M607.95 6.70 v2.80"/>
<path d="M639.73 379.50 v-2.80 M639.73 6.70 v2.80"/>
<path d="M67.80 362.27 h6.50 M671.50 362.27 h-6.50"/>
<path d="M67.80 308.75 h6.50 M671.50 308.75 h-6.50"/>
<path d="M67.80 184.49 h6.50 M671.50 184.49 h-6.50"/>
<path d="M67.80 130.97 h6.50 M671.50 130.97 h-6.50"/>
<path d="M67.80 6.70 h6.50 M671.50 6.70 h-6.50"/>
<path d="M67.80 348.19 h3.60 M671.50 348.19 h-3.60"/>
<path d="M67.80 336.29 h3.60 M671.50 336.29 h-3.60"/>
<path d="M67.80 325.98 h3.60 M671.50 325.98 h-3.60"/>
<path d="M67.80 316.89 h3.60 M671.50 316.89 h-3.60"/>
<path d="M67.80 255.23 h3.60 M671.50 255.23 h-3.60"/>
<path d="M67.80 223.93 h3.60 M671.50 223.93 h-3.60"/>
<path d="M67.80 201.71 h3.60 M671.50 201.71 h-3.60"/>
<path d="M67.80 170.41 h3.60 M671.50 170.41 h-3.60"/>
<path d="M67.80 158.51 h3.60 M671.50 158.51 h-3.60"/>
<path d="M67.80 148.20 h3.60 M671.50 148.20 h-3.60"/>
<path d="M67.80 139.10 h3.60 M671.50 139.10 h-3.60"/>
<path d="M67.80 77.45 h3.60 M671.50 77.45 h-3.60"/>
<path d="M67.80 46.14 h3.60 M671.50 46.14 h-3.60"/>
<path d="M67.80 23.93 h3.60 M671.50 23.93 h-3.60"/>
</g>
<rect x="67.80" y="6.70" width="603.70" height="372.80" fill="none" stroke="#000" stroke-width="2.7"/>
<g fill="#000" stroke="#000" stroke-width="0.2">
<text transform="translate(36.85 369.77) scale(0.94 1)" font-size="20.4">0.5</text>
<path transform="translate(52.84 316.25) scale(0.009363 -0.009961)" d="M763 0H583V1147Q518 1085 412.5 1023T223 930V1104Q374 1175 487 1276T647 1472H763Z"/>
<text transform="translate(52.84 191.99) scale(0.94 1)" font-size="20.4">5</text>
<path transform="translate(42.18 138.47) scale(0.009363 -0.009961)" d="M763 0H583V1147Q518 1085 412.5 1023T223 930V1104Q374 1175 487 1276T647 1472H763Z"/><text transform="translate(52.84 138.47) scale(0.94 1)" font-size="20.4">0</text>
<text transform="translate(42.18 14.20) scale(0.94 1)" font-size="20.4">50</text>
<text transform="translate(149.79 402.20) scale(0.94 1)" font-size="20.4">0.2</text>
<text transform="translate(276.89 402.20) scale(0.94 1)" font-size="20.4">0.4</text>
<text transform="translate(403.98 402.20) scale(0.94 1)" font-size="20.4">0.6</text>
<text transform="translate(531.08 402.20) scale(0.94 1)" font-size="20.4">0.8</text>
<path transform="translate(658.17 402.20) scale(0.009363 -0.009961)" d="M763 0H583V1147Q518 1085 412.5 1023T223 930V1104Q374 1175 487 1276T647 1472H763Z"/><text transform="translate(668.83 402.20) scale(0.94 1)" font-size="20.4">.0</text>
</g>
<path d="M505 35.20 H547.3" stroke="#000" stroke-width="2.1" fill="none"/>
<text transform="translate(555.4 42.75) scale(0.96 1)" font-size="24.9" stroke="#000" stroke-width="0.25"><tspan font-style="italic">W</tspan><tspan font-size="18.2" dy="5.0">3</tspan></text>
<path d="M505 76.65 H547.3" stroke="#f00" stroke-width="2.1" fill="none" stroke-dasharray="5.2 4.9"/>
<text transform="translate(555.4 84.20) scale(0.96 1)" font-size="24.9" stroke="#000" stroke-width="0.25"><tspan font-style="italic">W</tspan><tspan font-size="18.2" dy="5.0">4</tspan><tspan dx="2.4" dy="-5.0">,</tspan><tspan font-style="italic" dx="1.0">Z</tspan><tspan font-size="18.2" dy="5.0">4</tspan><tspan dx="2.4" dy="-5.0">,</tspan><tspan font-style="italic" dx="1.0">Z</tspan><tspan font-size="18.2" dy="5.0">6</tspan></text>
<path d="M505 118.10 H547.3" stroke="#00f" stroke-width="2.1" fill="none"/>
<text transform="translate(555.4 125.65) scale(0.96 1)" font-size="24.9" stroke="#000" stroke-width="0.25"><tspan font-style="italic">Z</tspan><tspan font-size="18.2" dy="5.0">2</tspan></text>
<path d="M505 159.55 H547.3" stroke="#00f" stroke-width="2.1" fill="none" stroke-dasharray="5.2 4.9"/>
<text transform="translate(555.4 167.10) scale(0.96 1)" font-size="24.9" stroke="#000" stroke-width="0.25"><tspan font-style="italic">Z</tspan><tspan font-size="18.2" dy="5.0">3</tspan></text>
<path d="M505 201.00 H547.3" stroke="#996633" stroke-width="2.1" fill="none"/>
<text transform="translate(555.4 208.55) scale(0.96 1)" font-size="24.9" stroke="#000" stroke-width="0.25"><tspan font-style="italic">Z</tspan><tspan font-size="18.2" dy="5.0">5</tspan><tspan dx="1.2" dy="-5.0">,</tspan><tspan font-style="italic" dx="1.0">Z</tspan><tspan font-size="18.2" dy="5.0">7</tspan></text>
<g font-size="26" font-weight="bold" stroke="#000" stroke-width="0.3"><text x="337.3" y="436.4" font-style="italic">V</text><text x="353.2" y="440.6" font-style="italic" font-size="18.4">R</text><text x="371.8" y="436.2">/</text><text x="385.6" y="436.2">V</text></g>
<g transform="translate(17.6 235.6) rotate(-90)" font-size="26" font-weight="bold" font-style="italic" stroke="#000" stroke-width="0.35"><text x="0" y="0">m</text><text x="21.9" y="4.6" font-size="17.5" stroke="none">i</text><text x="27.0" y="0" font-style="normal">/</text><text x="36.3" y="0">m</text><text x="58" y="4.6" font-size="18">W</text><text x="75.3" y="7.6" font-size="12.8">2</text></g>
</svg>
</body></html>
